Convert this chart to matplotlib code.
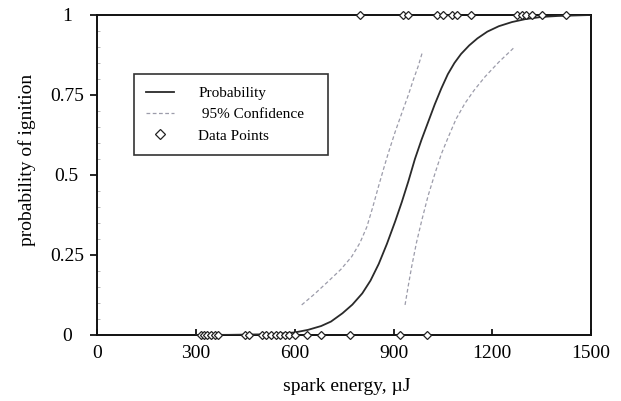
import matplotlib
matplotlib.use("Agg")
import matplotlib.pyplot as plt
from matplotlib.ticker import MultipleLocator

plt.rcParams['font.family'] = ['Liberation Serif', 'DejaVu Serif']

# fitted probability curve
curve_x = [300, 400, 500, 550, 600, 640, 680, 710, 745, 775, 805, 830, 855, 880,
           905, 925, 945, 965, 985, 1005, 1025, 1045, 1065, 1085, 1105, 1130,
           1155, 1185, 1220, 1260, 1300, 1350, 1400, 1500]
curve_y = [0.0, 0.0005, 0.002, 0.004, 0.008, 0.016, 0.028, 0.042, 0.068, 0.095,
           0.13, 0.17, 0.222, 0.285, 0.355, 0.415, 0.48, 0.55, 0.61, 0.665, 0.72,
           0.77, 0.815, 0.85, 0.878, 0.905, 0.927, 0.948, 0.965, 0.978, 0.987,
           0.994, 0.997, 1.0]

# 95% confidence limits
lower_x = [621, 660, 702, 740, 773, 798, 819, 837, 854, 870, 884, 905, 925, 945, 960, 975, 988]
lower_y = [0.094, 0.128, 0.168, 0.205, 0.245, 0.288, 0.338, 0.4, 0.463, 0.52, 0.568, 0.635,
           0.693, 0.75, 0.797, 0.84, 0.885]
upper_x = [935, 945, 955, 970, 986, 1005, 1026, 1045, 1067, 1090, 1117, 1145, 1178, 1220, 1264]
upper_y = [0.094, 0.155, 0.213, 0.29, 0.359, 0.435, 0.505, 0.565, 0.62, 0.675, 0.724, 0.765,
           0.807, 0.853, 0.896]

# observed outcomes: no ignition (0) and ignition (1)
no_ign = [314, 324, 334, 345, 357, 368, 449, 461, 500, 513, 527, 543, 555, 569,
          583, 600, 636, 681, 768, 920, 1001]
ign = [797, 930, 945, 1031, 1050, 1077, 1092, 1136, 1274, 1290, 1303, 1320,
       1350, 1424]

fig = plt.figure(figsize=(6.21, 4.01), dpi=100)
ax = fig.add_axes([0.1567, 0.1646, 0.795, 0.798])

ax.plot(curve_x, curve_y, color='#2a2a2a', lw=1.3, label='Probability', zorder=3)
ax.plot(lower_x, lower_y, color='#9c9caa', lw=0.9, ls=(0, (3, 2)),
        label=' 95% Confidence   ', zorder=2)
ax.plot(upper_x, upper_y, color='#9c9caa', lw=0.9, ls=(0, (3, 2)), zorder=2)

pts_x = no_ign + ign
pts_y = [0] * len(no_ign) + [1] * len(ign)
ax.plot(pts_x, pts_y, ls='none', marker='D', ms=4.3, mfc='white', mec='#222222',
        mew=0.9, clip_on=False, zorder=5, label='Data Points')

ax.set_xlim(0, 1500)
ax.set_ylim(0, 1)
ax.set_xticks([0, 300, 600, 900, 1200, 1500])
ax.set_yticks([0, 0.25, 0.5, 0.75, 1])
ax.set_yticklabels(['0', '0.25', '0.5', '0.75', '1'])
ax.yaxis.set_minor_locator(MultipleLocator(0.05))

for s in ax.spines.values():
    s.set_linewidth(1.4)
    s.set_color('#111111')

ax.tick_params(axis='x', direction='in', length=4, width=1.2, labelsize=14, pad=7)
ax.tick_params(axis='y', which='major', direction='out', length=5, width=1.2,
               labelsize=14, pad=17)
ax.tick_params(axis='y', which='minor', direction='in', length=2, width=0.5,
               color='#999999')
for lab in ax.get_yticklabels():
    lab.set_horizontalalignment('center')

ax.set_xlabel('spark energy, µJ', fontsize=14)
ax.set_ylabel('probability of ignition', fontsize=14)
ax.xaxis.set_label_coords(0.506, -0.133)
ax.yaxis.set_label_coords(-0.124, 0.547)

leg = ax.legend(loc='upper left', bbox_to_anchor=(0.0743, 0.8156), fontsize=11,
                frameon=True, fancybox=False, edgecolor='#333333', framealpha=1,
                handlelength=1.8, handletextpad=1.6, labelspacing=0.5,
                borderpad=0.8, borderaxespad=0, markerscale=1.3)
leg.get_frame().set_linewidth(1.2)

fig.savefig('out.png', dpi=100)
